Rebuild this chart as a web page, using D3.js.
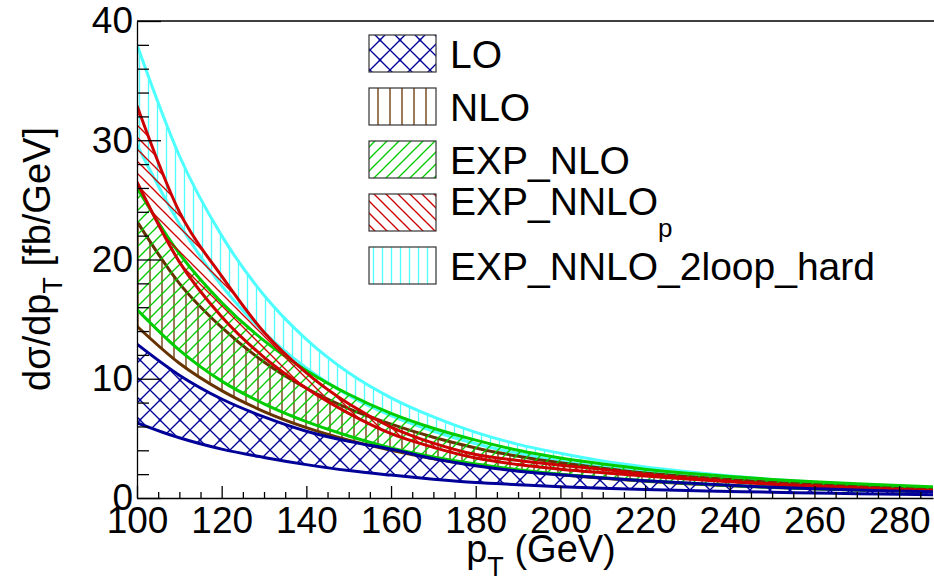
<!DOCTYPE html>
<html><head><meta charset="utf-8">
<script src="https://cdn.jsdelivr.net/npm/d3@7"></script>
<style>
html,body{margin:0;padding:0;background:#fff;}
svg{display:block;font-family:"Liberation Sans",Arial,Helvetica,sans-serif;}
</style></head>
<body>
<svg id="c" width="934" height="579"></svg>
<script>
// ---- data ----
const pT = [100,110,120,130,140,150,160,170,180,190,200,210,220,230,240,250,260,270,280,288];

const LO_lo = [6.3,5.05,4.1,3.4,2.8,2.3,1.92,1.58,1.3,1.12,0.95,0.82,0.72,0.63,0.55,0.48,0.42,0.36,0.31,0.27];
const LO_hi = [12.9,10.3,8.3,6.8,5.6,4.75,4.1,3.3,2.7,2.25,1.95,1.68,1.45,1.25,1.06,0.9,0.78,0.67,0.58,0.52];

const NLO_lo = [14.4,11.3,9.0,7.25,5.9,4.85,4.0,3.3,2.75,2.3,1.95,1.65,1.4,1.2,1.03,0.89,0.77,0.67,0.59,0.53];
const NLO_hi = [23.2,18.0,14.3,11.4,9.2,7.5,6.2,5.1,4.2,3.5,2.95,2.5,2.1,1.8,1.55,1.33,1.15,1.0,0.87,0.78];

const EXPNLO_lo = [15.8,12.4,9.8,7.9,6.4,5.2,4.2,3.45,2.85,2.38,2.0,1.7,1.44,1.23,1.05,0.9,0.78,0.68,0.6,0.54];
const EXPNLO_hi = [26.0,20.5,16.4,13.2,10.7,8.7,7.1,5.85,4.85,4.0,3.35,2.85,2.42,2.08,1.8,1.56,1.36,1.19,1.04,0.94];

const NNLOp_lo = [26.5,19.8,15.2,11.8,9.2,7.1,5.4,4.25,3.35,2.8,2.42,2.12,1.85,1.6,1.37,1.16,0.98,0.83,0.7,0.61];
const NNLOp_hi = [32.9,24.0,18.6,13.9,10.5,7.9,5.95,4.6,3.65,3.15,2.75,2.4,2.0,1.67,1.4,1.17,1.0,0.85,0.72,0.63];

const HARD_lo = [29.6,23.0,17.8,13.9,10.9,8.6,6.9,5.6,4.55,3.75,3.1,2.6,2.2,1.85,1.58,1.36,1.17,1.0,0.87,0.78];
const HARD_hi = [38.0,28.7,22.0,17.0,13.3,10.5,8.4,6.8,5.5,4.5,3.75,3.1,2.6,2.2,1.85,1.55,1.32,1.12,0.95,0.84];

const xTicks = [100,120,140,160,180,200,220,240,260,280];
const yTicks = [0,10,20,30,40];
const legendLabels = ["LO","NLO","EXP_NLO","EXP_NNLO","EXP_NNLO_2loop_hard"];

// ---- layout ----
const svg = d3.select("#c");
const x = d3.scaleLinear().domain([100,288]).range([137,933]);
const y = d3.scaleLinear().domain([0,40]).range([498,21]);

const series = [
  {key:"hard", lo:HARD_lo, hi:HARD_hi, color:"#4dffff", pat:"pHard"},
  {key:"nlo",  lo:NLO_lo,  hi:NLO_hi,  color:"#663300", pat:"pNlo"},
  {key:"expnlo", lo:EXPNLO_lo, hi:EXPNLO_hi, color:"#00cc00", pat:"pExpNlo"},
  {key:"nnlop", lo:NNLOp_lo, hi:NNLOp_hi, color:"#cc0000", pat:"pNnlop"},
  {key:"lo", lo:LO_lo, hi:LO_hi, color:"#000099", pat:"pLo"}
];

// patterns
const defs = svg.append("defs");
function pat(id, size, lines, color){
  const p = defs.append("pattern").attr("id",id).attr("patternUnits","userSpaceOnUse")
    .attr("width",size).attr("height",size);
  lines.forEach(l=>p.append("line").attr("x1",l[0]).attr("y1",l[1]).attr("x2",l[2]).attr("y2",l[3])
    .attr("stroke",color).attr("stroke-width",1.3));
}
pat("pLo",20,[[0,0,20,20],[0,20,20,0],[-1,-1,1,1],[19,19,21,21],[-1,21,1,19],[19,1,21,-1]],"#000099");
pat("pNlo",12,[[6,0,6,12]],"#663300");
pat("pExpNlo",12,[[0,12,12,0],[-1,1,1,-1],[11,13,13,11]],"#00cc00");
pat("pNnlop",12,[[0,0,12,12],[-1,11,1,13],[11,-1,13,1]],"#cc0000");
pat("pHard",9,[[4.5,0,4.5,9]],"#4dffff");

defs.append("clipPath").attr("id","plotclip").append("rect")
  .attr("x",137).attr("y",21).attr("width",796).attr("height",477);

const g = svg.append("g").attr("clip-path","url(#plotclip)");
const curve = d3.curveMonotoneX;
series.forEach(s=>{
  const pts = pT.map((p,i)=>({p, lo:s.lo[i], hi:s.hi[i]}));
  const area = d3.area().x(d=>x(d.p)).y0(d=>y(d.lo)).y1(d=>y(d.hi)).curve(curve);
  g.append("path").attr("d",area(pts)).attr("fill",`url(#${s.pat})`).attr("stroke","none");
  ["lo","hi"].forEach(k=>{
    const line = d3.line().x(d=>x(d.p)).y(d=>y(d[k])).curve(curve);
    g.append("path").attr("d",line(pts)).attr("fill","none").attr("stroke",s.color).attr("stroke-width",3);
  });
});

// frame
svg.append("line").attr("x1",137).attr("x2",934).attr("y1",21).attr("y2",21).attr("stroke","#000").attr("stroke-width",1.3);

// axes
const xMinor = d3.range(100,289,5).filter(v=>v%20!==0);
const yMinor = d3.range(0,41,2).filter(v=>v%10!==0);
const ax = svg.append("g").attr("transform","translate(0,498)");
ax.call(d3.axisBottom(x).tickValues(xTicks).tickSize(-12).tickSizeOuter(0).tickPadding(9).tickFormat(d3.format("d")));
ax.append("g").call(d3.axisBottom(x).tickValues(xMinor).tickSize(-6).tickSizeOuter(0).tickFormat(""))
  .select(".domain").remove();
const ay = svg.append("g").attr("transform","translate(137,0)");
ay.call(d3.axisLeft(y).tickValues(yTicks).tickSize(-24).tickSizeOuter(0).tickPadding(4).tickFormat(d3.format("d")));
ay.append("g").call(d3.axisLeft(y).tickValues(yMinor).tickSize(-12).tickSizeOuter(0).tickFormat(""))
  .select(".domain").remove();
svg.selectAll(".tick line, .domain").attr("stroke","#000").attr("stroke-width",1.3);
svg.selectAll(".tick text").attr("font-size",37).attr("fill","#000")
  .attr("font-family","'Liberation Sans',Arial,sans-serif");

// axis titles
const xt = svg.append("text").attr("x",541).attr("y",562).attr("text-anchor","middle").attr("font-size",38);
xt.append("tspan").text("p");
xt.append("tspan").attr("dy",14).attr("font-size",27).text("T");
xt.append("tspan").attr("dy",-14).text(" (GeV)");

const yt = svg.append("text").attr("transform","translate(50,259) rotate(-90)").attr("text-anchor","middle").attr("font-size",38);
yt.append("tspan").text("dσ/dp");
yt.append("tspan").attr("dy",12).attr("font-size",27).text("T");
yt.append("tspan").attr("dy",-12).text(" [fb/GeV]");

// legend
const legPats = ["pLo","pNlo","pExpNlo","pNnlop","pHard"];
const boxTops = [35,88,141,194,247];
legendLabels.forEach((lab,i)=>{
  svg.append("rect").attr("x",369).attr("y",boxTops[i]).attr("width",67).attr("height",37)
    .attr("fill",`url(#${legPats[i]})`).attr("stroke","#333").attr("stroke-width",1.2);
  const t = svg.append("text").attr("x",450).attr("font-size",39)
    .attr("y", i===3 ? boxTops[i]+21 : boxTops[i]+32.5);
  t.append("tspan").text(lab);
  if(i===3){ t.append("tspan").attr("dy",22).attr("font-size",26).text("p"); }
});
</script>
</body></html>
